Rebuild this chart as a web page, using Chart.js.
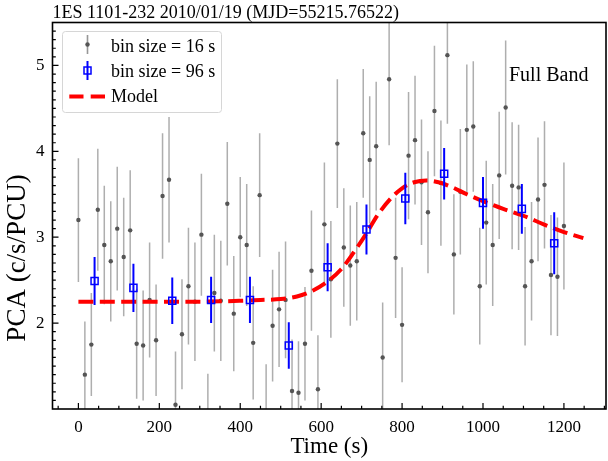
<!DOCTYPE html>
<html><head><meta charset="utf-8">
<script src="https://cdn.jsdelivr.net/npm/chart.js@4/dist/chart.umd.min.js"></script>
<style>html,body{margin:0;padding:0;background:#fff}#wrap{width:608px;height:461px;position:relative}</style>
</head><body><div id="wrap"><canvas id="c" width="608" height="461"></canvas></div>
<script>
// ---- data ----
const time16 = [0,16,32,48,64,80,96,112,128,144,160,176,192,208,224,240,256,272,288,304,
  320,336,352,368,384,400,416,432,448,464,480,496,512,528,544,560,576,592,608,624,
  640,656,672,688,704,720,736,752,768,784,800,816,832,848,864,880,896,912,928,944,
  960,976,992,1008,1024,1040,1056,1072,1088,1104,1120,1136,1152,1168,1184,1200];
const rate16 = [3.20,1.40,1.75,3.32,2.91,2.72,3.10,2.77,3.08,1.76,1.74,2.27,1.80,3.48,3.67,1.05,1.87,2.43,2.25,3.03,
  0.78,2.35,2.26,3.39,2.11,3.00,2.91,1.77,3.49,0.89,1.97,2.16,2.27,1.21,1.19,1.76,2.61,1.23,3.15,2.51,
  4.09,2.88,2.67,2.72,4.21,3.90,4.06,1.60,4.84,2.76,1.98,3.95,4.13,3.64,3.29,4.47,3.63,5.12,2.80,3.53,
  4.25,4.29,2.43,3.17,2.91,3.72,4.51,3.60,3.58,2.43,2.72,3.44,3.61,2.56,2.54,3.13];
const err16 = [0.72,0.62,0.60,0.71,0.69,0.70,0.72,0.69,0.70,0.64,0.64,0.67,0.65,0.73,0.73,0.62,0.64,0.68,0.69,0.71,
  0.63,0.68,0.70,0.72,0.67,0.70,0.71,0.66,0.72,0.63,0.65,0.67,0.68,0.60,0.60,0.66,0.70,0.63,0.72,0.68,
  0.75,0.69,0.70,0.69,0.75,0.74,0.75,0.64,0.77,0.70,0.67,0.74,0.75,0.73,0.71,0.76,0.73,0.80,0.70,0.73,
  0.76,0.76,0.68,0.72,0.71,0.74,0.78,0.74,0.73,0.69,0.69,0.72,0.74,0.70,0.69,0.74];
const time96 = [40,136,232,328,424,520,616,712,808,904,1000,1096,1176];
const rate96 = [2.49,2.41,2.26,2.27,2.27,1.74,2.65,3.09,3.45,3.74,3.40,3.33,2.93];
const err96  = [0.28,0.28,0.27,0.27,0.27,0.27,0.28,0.29,0.30,0.30,0.30,0.29,0.36];
const timeModel = [0,100,200,300,400,450,500,540,580,620,650,680,710,740,770,800,830,860,890,920,960,1000,1050,1100,1150,1200,1248];
const rateModel = [2.25,2.25,2.25,2.25,2.26,2.27,2.28,2.31,2.38,2.50,2.63,2.82,3.03,3.26,3.44,3.57,3.64,3.66,3.64,3.59,3.50,3.42,3.33,3.25,3.15,3.06,2.99];
const xTicks = [0,200,400,600,800,1000,1200];
const yTicks = [2,3,4,5];
const titleText = '1ES 1101-232 2010/01/19 (MJD=55215.76522)';
const xTitle = 'Time (s)';
const yTitle = 'PCA (c/s/PCU)';
const legendLabels = ['bin size = 16 s','bin size = 96 s','Model'];
const bandLabel = 'Full Band';

const SERIF = '"Liberation Serif","DejaVu Serif",serif';
Chart.defaults.font.family = SERIF;
Chart.defaults.color = '#000';

// keep the plot frame flush with the right edge as in the reference
const areaFix = {
  id: 'areaFix',
  afterLayout(chart) {
    const target = 606;
    const d = target - chart.chartArea.right;
    if (Math.abs(d) < 0.01) return;
    chart.chartArea.right = target;
    chart.chartArea.width += d;
    const x = chart.scales.x;
    x.right = target; x.width += d;
    x.configure();
  }
};

const errorBars = {
  id: 'errorBars',
  beforeDatasetDraw(chart, args) {
    const ds = chart.data.datasets[args.index];
    if (!ds.errors) return;
    const {ctx, chartArea: a, scales: {x, y}} = chart;
    ctx.save();
    ctx.beginPath(); ctx.rect(a.left, a.top, a.right - a.left, a.bottom - a.top); ctx.clip();
    ctx.strokeStyle = ds.errColor; ctx.lineWidth = ds.errWidth; ctx.lineCap = 'butt';
    ds.data.forEach((p, i) => {
      const px = x.getPixelForValue(p.x);
      ctx.beginPath();
      ctx.moveTo(px, y.getPixelForValue(p.y - ds.errors[i]));
      ctx.lineTo(px, y.getPixelForValue(p.y + ds.errors[i]));
      ctx.stroke();
    });
    ctx.restore();
  }
};

const frameTicks = {
  id: 'frameTicks',
  afterDatasetsDraw(chart) {
    const {ctx, chartArea: a, scales: {x, y}} = chart;
    ctx.save();
    ctx.strokeStyle = '#000'; ctx.lineWidth = 1.2;
    ctx.beginPath();
    for (let v = -50; v <= 1300; v += 50) {
      const px = x.getPixelForValue(v);
      if (px < a.left || px > a.right) continue;
      const len = (v % 200 === 0) ? 6 : 3.3;
      ctx.moveTo(px, a.bottom); ctx.lineTo(px, a.bottom - len);
    }
    for (let k = 11; k <= 54; k++) {
      const v = k / 10;
      const py = y.getPixelForValue(v);
      const len = (k % 10 === 0) ? 6 : 3.3;
      ctx.moveTo(a.left, py); ctx.lineTo(a.left + len, py);
    }
    ctx.stroke();
    ctx.lineWidth = 1.6;
    ctx.strokeRect(a.left, a.top, a.right - a.left, a.bottom - a.top);
    ctx.restore();
  },
  afterDraw(chart) {
    const ctx = chart.ctx;
    ctx.save();
    // legend frame
    ctx.beginPath();
    ctx.roundRect(62.5, 31.5, 159, 81, 3);
    ctx.fillStyle = 'rgba(255,255,255,0.85)'; ctx.fill();
    ctx.strokeStyle = '#d6d6d6'; ctx.lineWidth = 1; ctx.stroke();
    // row 1 marker
    ctx.strokeStyle = 'rgba(140,140,140,0.9)'; ctx.lineWidth = 1.6;
    ctx.beginPath(); ctx.moveTo(87.5, 35); ctx.lineTo(87.5, 54); ctx.stroke();
    ctx.fillStyle = '#555'; ctx.beginPath(); ctx.arc(87.5, 44.5, 2.2, 0, Math.PI * 2); ctx.fill();
    // row 2 marker
    ctx.strokeStyle = '#0000ff'; ctx.lineWidth = 2;
    ctx.beginPath(); ctx.moveTo(87.5, 61); ctx.lineTo(87.5, 80); ctx.stroke();
    ctx.lineWidth = 1.5; ctx.strokeRect(84, 67, 7, 7);
    // row 3 marker
    ctx.strokeStyle = '#ff0000'; ctx.lineWidth = 4;
    ctx.beginPath(); ctx.moveTo(69.3, 96.5); ctx.lineTo(83.5, 96.5); ctx.moveTo(90.7, 96.5); ctx.lineTo(105, 96.5); ctx.stroke();
    // legend text
    ctx.fillStyle = '#000'; ctx.font = '18px ' + SERIF; ctx.textBaseline = 'alphabetic'; ctx.textAlign = 'left';
    ctx.fillText(legendLabels[0], 111, 51.5);
    ctx.fillText(legendLabels[1], 111, 76.5);
    ctx.fillText(legendLabels[2], 111, 101.5);
    ctx.font = '20px ' + SERIF;
    ctx.fillText(bandLabel, 509, 81);
    // y-axis title
    ctx.translate(18, 258); ctx.rotate(-Math.PI / 2);
    ctx.font = '27px ' + SERIF; ctx.textAlign = 'center'; ctx.textBaseline = 'middle';
    ctx.fillText(yTitle, 0, 0);
    ctx.restore();
  }
};

new Chart(document.getElementById('c'), {
  type: 'scatter',
  data: {
    datasets: [
      {
        label: legendLabels[0], order: 3,
        data: time16.map((t, i) => ({x: t, y: rate16[i]})),
        errors: err16, errColor: 'rgba(140,140,140,0.7)', errWidth: 1.5,
        pointRadius: 2.2, pointBackgroundColor: '#555', pointBorderWidth: 0, showLine: false
      },
      {
        label: legendLabels[2], order: 2,
        data: timeModel.map((t, i) => ({x: t, y: rateModel[i]})),
        showLine: true, borderColor: '#ff0000', borderWidth: 4, borderDash: [15, 6.4],
        cubicInterpolationMode: 'monotone', pointRadius: 0, fill: false
      },
      {
        label: legendLabels[1], order: 1,
        data: time96.map((t, i) => ({x: t, y: rate96[i]})),
        errors: err96, errColor: '#0000ff', errWidth: 2,
        pointStyle: 'rect', pointRadius: 5, pointBorderColor: '#0000ff', pointBorderWidth: 1.5,
        pointBackgroundColor: 'rgba(0,0,0,0)', showLine: false
      }
    ]
  },
  options: {
    responsive: false, animation: false, devicePixelRatio: 1,
    layout: {padding: {left: 0, right: 1.5, top: 0, bottom: 0}},
    plugins: {
      legend: {display: false}, tooltip: {enabled: false},
      title: {display: true, text: titleText, align: 'start', fullSize: false, color: '#000',
        font: {size: 18, weight: 'normal', lineHeight: 1}, padding: {top: 4, bottom: 0.5}}
    },
    scales: {
      x: {
        type: 'linear', min: -64, max: 1304,
        afterBuildTicks: s => { s.ticks = xTicks.map(v => ({value: v})); },
        afterFit: s => { s.height = 52; s.paddingLeft = 0; s.paddingRight = 0; },
        ticks: {font: {size: 17}, color: '#000', padding: 8, maxRotation: 0, autoSkip: false,
          callback: v => String(v)},
        grid: {display: false, drawTicks: false}, border: {display: false},
        title: {display: true, text: xTitle, font: {size: 23}, color: '#000', padding: {top: 0, bottom: 0}}
      },
      y: {
        type: 'linear', min: 1.0, max: 5.5,
        afterBuildTicks: s => { s.ticks = yTicks.map(v => ({value: v})); },
        afterFit: s => { s.width = 52.5; s.paddingTop = 0; s.paddingBottom = 0; },
        ticks: {font: {size: 17}, color: '#000', padding: 8, autoSkip: false, callback: v => String(v)},
        grid: {display: false, drawTicks: false}, border: {display: false},
        title: {display: false, text: yTitle}
      }
    }
  },
  plugins: [areaFix, errorBars, frameTicks]
});
</script></body></html>
